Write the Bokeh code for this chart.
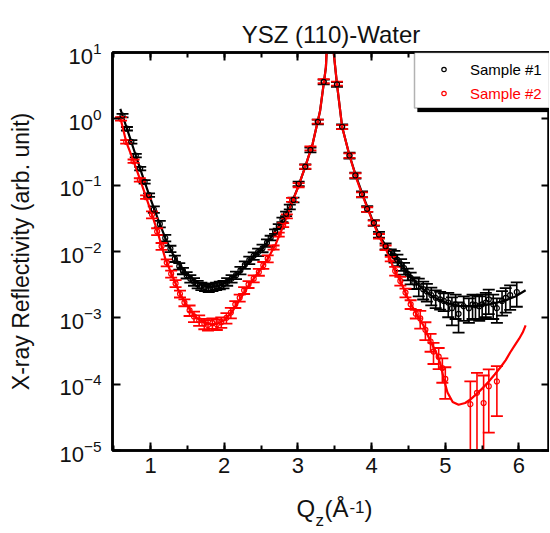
import numpy as np
from bokeh.plotting import figure
from bokeh.models import (Range1d, LinearAxis, LogAxis, FixedTicker, SingleIntervalTicker,
                          Legend, LegendItem, BoxAnnotation, CustomJSTickFormatter)
from bokeh.embed import file_html
from bokeh.resources import INLINE

FONT = "Liberation Sans"

# ---------------- data ----------------
title_text = "YSZ (110)-Water"
ylabel_text = "X-ray Reflectivity (arb. unit)"
legend_labels = ["Sample #1", "Sample #2"]
y_ticks = [1e-5, 1e-4, 1e-3, 1e-2, 1e-1, 1e0, 1e1]

# Sample #1 (black) measured points
s1_q = [0.62, 0.68, 0.74, 0.80, 0.86, 0.92, 0.98,
        1.045, 1.126, 1.20, 1.27, 1.33, 1.39, 1.44, 1.49,
        1.54, 1.59, 1.64, 1.69, 1.74, 1.79, 1.84, 1.89, 1.94, 1.99,
        2.04, 2.10, 2.16, 2.22, 2.28, 2.34, 2.40, 2.46, 2.52, 2.58,
        2.63, 2.69, 2.74, 2.79, 2.84, 2.89, 2.94, 3.01, 3.10, 3.17, 3.27, 3.35, 3.53, 3.60,
        3.70, 3.78, 3.87, 3.94, 4.03, 4.10, 4.19, 4.26,
        4.31, 4.35, 4.40, 4.44, 4.49, 4.53, 4.58,
        4.64, 4.70, 4.75, 4.81, 4.87, 4.93, 4.98,
        5.04, 5.09, 5.14, 5.18, 5.25, 5.32, 5.37, 5.41, 5.46, 5.50, 5.55, 5.59,
        5.65, 5.70, 5.77, 5.82, 5.88, 5.97]
s1_r = [1.12, 0.71, 0.45, 0.28, 0.178, 0.112, 0.071,
        0.043, 0.026, 0.016, 0.011, 0.0078, 0.0060, 0.0051, 0.0044,
        0.0039, 0.0035, 0.0032, 0.0030, 0.0029, 0.0028, 0.0029, 0.0030, 0.0031, 0.0032,
        0.0035, 0.0039, 0.0044, 0.0052, 0.0063, 0.0074, 0.0086, 0.0098, 0.0112, 0.0135,
        0.016, 0.020, 0.024, 0.030, 0.037, 0.047, 0.060, 0.105, 0.19, 0.34, 0.90, 3.6, 3.3, 0.76,
        0.28, 0.14, 0.073, 0.044, 0.027, 0.018, 0.012, 0.0098,
        0.0085, 0.0075, 0.0064, 0.0056, 0.0046, 0.0040, 0.0034,
        0.0030, 0.0027, 0.0025, 0.0022, 0.0020, 0.0019, 0.0018,
        0.0017, 0.0014, 0.0016, 0.00115, 0.0015, 0.0014, 0.0016, 0.00155, 0.0015, 0.0016, 0.0017, 0.0019,
        0.0016, 0.0014, 0.0018, 0.0020, 0.0022, 0.00245]
s1_relerr = [0.06, 0.06, 0.06, 0.06, 0.06, 0.06, 0.06,
             0.11, 0.11, 0.11, 0.11, 0.11, 0.11, 0.11, 0.11,
             0.13, 0.13, 0.13, 0.13, 0.13, 0.13, 0.13, 0.13, 0.13, 0.13,
             0.13, 0.13, 0.13, 0.13, 0.13, 0.13, 0.13, 0.13, 0.13, 0.13,
             0.08, 0.08, 0.08, 0.08, 0.08, 0.08, 0.08, 0.08, 0.08, 0.08, 0.08, 0.08, 0.08, 0.08,
             0.10, 0.10, 0.10, 0.10, 0.10, 0.10, 0.10, 0.10,
             0.20, 0.20, 0.20, 0.20, 0.20, 0.20, 0.20,
             0.30, 0.30, 0.30, 0.30, 0.30, 0.30, 0.30,
             0.40, 0.45, 0.40, 0.48, 0.40, 0.40, 0.40, 0.40, 0.40, 0.40, 0.40, 0.40,
             0.40, 0.40, 0.40, 0.40, 0.40, 0.40]

# Sample #1 fit curve
s1_fit_q = [0.59, 0.70, 0.80, 0.90, 1.00, 1.10, 1.20, 1.30, 1.40, 1.50, 1.60, 1.70, 1.80, 1.90,
            2.00, 2.10, 2.20, 2.30, 2.40, 2.50, 2.60, 2.70, 2.80, 2.90, 3.00, 3.10, 3.20, 3.30,
            3.38, 3.43, 3.49, 3.53, 3.60, 3.70, 3.80, 3.90, 4.00, 4.10, 4.20, 4.30, 4.40, 4.50,
            4.60, 4.70, 4.80, 4.90, 5.00, 5.20, 5.40, 5.60, 5.80, 5.95, 6.09]
s1_fit_r = [1.41, 0.61, 0.28, 0.13, 0.062, 0.031, 0.016, 0.0093, 0.0062, 0.0045, 0.0036, 0.0031, 0.0029, 0.0030,
            0.0033, 0.0039, 0.0048, 0.0063, 0.0085, 0.0107, 0.0145, 0.021, 0.031, 0.050, 0.092, 0.19, 0.42, 1.3,
            6.0, 100.0, 9.0, 3.3, 0.76, 0.28, 0.125, 0.062, 0.032, 0.018, 0.0118, 0.0088, 0.0065, 0.0045,
            0.0034, 0.0027, 0.0022, 0.0019, 0.0017, 0.0015, 0.0015, 0.0016, 0.0018, 0.0021, 0.0026]

# Sample #2 (red) measured points
s2_q = [0.60, 0.67, 0.77, 0.855, 0.94,
        1.02, 1.09, 1.15, 1.22, 1.28, 1.34, 1.40, 1.46,
        1.53, 1.59, 1.66, 1.73, 1.78, 1.84, 1.90, 1.96, 2.03, 2.09,
        2.15, 2.21, 2.27, 2.33, 2.40, 2.47, 2.53, 2.59,
        2.67, 2.74, 2.80, 2.85, 2.92, 3.01, 3.10, 3.17, 3.27, 3.35, 3.53, 3.60,
        3.70, 3.78, 3.87, 3.94, 4.03, 4.10, 4.19, 4.26,
        4.32, 4.39, 4.46, 4.53, 4.60,
        4.66, 4.73, 4.80, 4.84, 4.91, 4.96,
        5.00,
        5.34, 5.43, 5.52, 5.59, 5.70]
s2_r = [1.0, 0.45, 0.23, 0.12, 0.066,
        0.036, 0.020, 0.012, 0.0068, 0.0046, 0.0033, 0.0023, 0.0017,
        0.0013, 0.00105, 0.00092, 0.00082, 0.00078, 0.00083, 0.00080, 0.00086, 0.0010, 0.0012,
        0.0016, 0.0020, 0.0026, 0.0032, 0.0039, 0.0049, 0.0062, 0.0078,
        0.0115, 0.018, 0.025, 0.034, 0.060, 0.10, 0.19, 0.36, 0.91, 3.7, 3.4, 0.75,
        0.28, 0.14, 0.072, 0.043, 0.027, 0.017, 0.0114, 0.0077,
        0.0051, 0.0036, 0.0024, 0.0016, 0.00115,
        0.00098, 0.00066, 0.00044, 0.00031, 0.00026, 0.000175,
        0.00012,
        0.000050, 0.000074, 0.000052, 0.000093, 0.00011]
s2_relerr = [0.06, 0.06, 0.06, 0.06, 0.06,
             0.12, 0.12, 0.12, 0.12, 0.12, 0.12, 0.12, 0.12,
             0.18, 0.18, 0.18, 0.18, 0.18, 0.18, 0.18, 0.18, 0.18, 0.18,
             0.12, 0.12, 0.12, 0.12, 0.12, 0.12, 0.12, 0.12,
             0.07, 0.07, 0.07, 0.07, 0.07, 0.07, 0.07, 0.07, 0.07, 0.07, 0.07, 0.07,
             0.08, 0.08, 0.08, 0.08, 0.08, 0.08, 0.08, 0.08,
             0.15, 0.15, 0.15, 0.15, 0.15,
             0.30, 0.30, 0.30, 0.35, 0.35, 0.40,
             0.50,
             1.20, 1.00, 1.60, 0.80, 0.70]

# Sample #2 fit curve
s2_fit_q = [0.59, 0.67, 0.77, 0.86, 0.94, 1.02, 1.10, 1.20, 1.30, 1.40, 1.50, 1.60, 1.70, 1.80,
            1.90, 2.00, 2.10, 2.20, 2.30, 2.40, 2.50, 2.60, 2.70, 2.80, 2.90, 3.00, 3.10, 3.20,
            3.30, 3.38, 3.43, 3.49, 3.53, 3.60, 3.70, 3.80, 3.90, 4.00, 4.10, 4.20, 4.30, 4.40,
            4.50, 4.60, 4.70, 4.80, 4.87, 4.93, 4.98, 5.03, 5.10, 5.18, 5.27, 5.35, 5.43, 5.51,
            5.59, 5.67, 5.75, 5.82, 5.88, 5.94, 6.00, 6.05, 6.09]
s2_fit_r = [1.05, 0.45, 0.23, 0.12, 0.066, 0.036, 0.019, 0.0078, 0.0042, 0.0023, 0.0015, 0.00105, 0.00087, 0.00080,
            0.00081, 0.00092, 0.0012, 0.0018, 0.0027, 0.0039, 0.0055, 0.0081, 0.013, 0.024, 0.048, 0.092, 0.19, 0.42,
            1.3, 6.0, 100.0, 9.0, 3.4, 0.75, 0.28, 0.12, 0.060, 0.031, 0.017, 0.0105, 0.0056, 0.0034,
            0.0019, 0.00118, 0.00078, 0.00044, 0.00031, 0.00021, 0.00012, 0.000075, 0.000054, 0.000049, 0.000052, 0.000060, 0.000072, 0.000088,
            0.00011, 0.00014, 0.00018, 0.00023, 0.00030, 0.00038, 0.00048, 0.00060, 0.00077]

# ---------------- layout constants ----------------
W, H = 549, 532
BL, BR, BT, BB = 112, 0, 52, 78
X0, X1 = 0.484, 6.414
Y0, Y1 = 1e-5, 1e1

p = figure(width=W, height=H, x_range=Range1d(X0, X1), y_range=Range1d(Y0, Y1),
           y_axis_type="log", output_backend="svg", toolbar_location=None,
           min_border_left=BL, min_border_right=BR, min_border_top=BT, min_border_bottom=BB,
           title=title_text)
p.xgrid.visible = False
p.ygrid.visible = False
p.outline_line_color = "black"
p.outline_line_width = 2.5
p.background_fill_color = "white"
p.border_fill_color = "white"

p.title.text_font = FONT
p.title.text_font_size = "24px"
p.title.text_font_style = "normal"
p.title.align = "center"
p.title.text_color = "#111111"


def style_axis(ax, labels=True, minor=True):
    ax.axis_line_width = 2.5
    ax.axis_line_color = "black"
    ax.major_tick_in = 8
    ax.major_tick_out = 0
    ax.major_tick_line_width = 2
    ax.major_tick_line_color = "black"
    if minor:
        ax.minor_tick_in = 5
        ax.minor_tick_out = 0
        ax.minor_tick_line_width = 2
        ax.minor_tick_line_color = "black"
    else:
        ax.minor_tick_line_color = None
    ax.major_label_text_font = FONT
    ax.major_label_text_color = "#111111"
    ax.major_label_text_font_size = "22px"
    if not labels:
        ax.formatter = CustomJSTickFormatter(code="return ''")
        ax.major_label_text_font_size = "4px"
        ax.major_label_standoff = 0


xa = p.xaxis[0]
xa.ticker = SingleIntervalTicker(interval=1, num_minor_ticks=2)
style_axis(xa)
xa.major_label_standoff = 7

ya = p.yaxis[0]
ya.ticker = FixedTicker(ticks=y_ticks, minor_ticks=[])
style_axis(ya, minor=False)
ya.major_label_standoff = 11
ya.axis_label = ylabel_text
ya.axis_label_text_font = FONT
ya.axis_label_text_font_size = "23px"
ya.axis_label_text_font_style = "normal"
ya.axis_label_text_color = "#111111"
ya.axis_label_standoff = 22

top = LinearAxis(ticker=SingleIntervalTicker(interval=1, num_minor_ticks=2))
style_axis(top, labels=False)
p.add_layout(top, "above")
right = LogAxis(ticker=FixedTicker(ticks=y_ticks, minor_ticks=[]))
style_axis(right, labels=False, minor=False)
p.add_layout(right, "right")


def add_series(q, r, rel, fq, fr, color):
    q = np.asarray(q, dtype=float)
    r = np.asarray(r, dtype=float)
    err = r * np.asarray(rel, dtype=float)
    lo = r - err
    lo = np.where(lo > 0, lo, 1e-9)
    hi = r + err
    p.line(fq, fr, line_color=color, line_width=2.2)
    p.segment(q, lo, q, hi, line_color=color, line_width=1.6)
    p.scatter(q, hi, marker="dash", size=12, line_color=color, line_width=1.8)
    p.scatter(q, lo, marker="dash", size=12, line_color=color, line_width=1.8)
    return q, r


q1, r1v = add_series(s1_q, s1_r, s1_relerr, s1_fit_q, s1_fit_r, "black")
q2, r2v = add_series(s2_q, s2_r, s2_relerr, s2_fit_q, s2_fit_r, "red")
rend2 = p.scatter(q2, r2v, marker="circle", size=5, line_color="red", fill_color=None, line_width=1.2)
rend1 = p.scatter(q1, r1v, marker="circle", size=5, line_color="black", fill_color=None, line_width=1.2)

# ---------------- legend box ----------------
frame_w = W - BL - BR
pxu = frame_w / (X1 - X0)
PXDEC = 67.0
box_left = X0 + 302 / pxu
box_bottom = 10 ** (1 - 56 / PXDEC)
shadow = BoxAnnotation(left=box_left + 3 / pxu, right=X1, top=10 ** (1 - 4 / PXDEC),
                       bottom=10 ** (1 - 60 / PXDEC), fill_color="black", fill_alpha=1,
                       line_color="black", line_width=1)
p.add_layout(shadow)
box = BoxAnnotation(left=box_left, right=X1, top=Y1, bottom=box_bottom, fill_color="white",
                    fill_alpha=1, line_color="black", line_width=1.5)
p.add_layout(box)

frame_h = H - BT - BB
for i, (lab, rend, col) in enumerate([(legend_labels[0], rend1, "black"),
                                       (legend_labels[1], rend2, "red")]):
    leg = Legend(items=[LegendItem(label=lab, renderers=[rend])],
                 location=(326, frame_h - 31 - 24 * i))
    leg.border_line_color = None
    leg.background_fill_alpha = 0
    leg.padding = 0
    leg.margin = 0
    leg.spacing = 0
    leg.glyph_width = 11
    leg.glyph_height = 20
    leg.label_height = 20
    leg.label_standoff = 21
    leg.label_text_font = FONT
    leg.label_text_font_size = "15px"
    leg.label_text_color = col
    p.add_layout(leg)


# ---------------- x-axis title  Q_z (Å^-1), built from label-only axes ----------------
def text_row(pieces, offsets_px, size, standoff):
    ticks = [X0 + o / pxu for o in offsets_px]
    ax = LinearAxis(ticker=FixedTicker(ticks=ticks, minor_ticks=[]),
                    formatter=CustomJSTickFormatter(args=dict(labels=pieces),
                                                    code="return labels[index]"))
    ax.axis_line_color = None
    ax.major_tick_line_color = None
    ax.minor_tick_line_color = None
    ax.major_tick_in = 0
    ax.major_tick_out = 0
    ax.minor_tick_in = 0
    ax.minor_tick_out = 0
    ax.major_label_text_font = FONT
    ax.major_label_text_font_size = size
    ax.major_label_text_color = "#111111"
    ax.major_label_standoff = standoff
    p.add_layout(ax, "below")


text_row(["-1"], [244.5], "17px", 25)
text_row(["Q", "(Å", ")"], [193.3, 224.0, 256.0], "24px", -21)
text_row(["z"], [207.2], "17px", -14)

open("out.html", "w").write(file_html(p, INLINE))
